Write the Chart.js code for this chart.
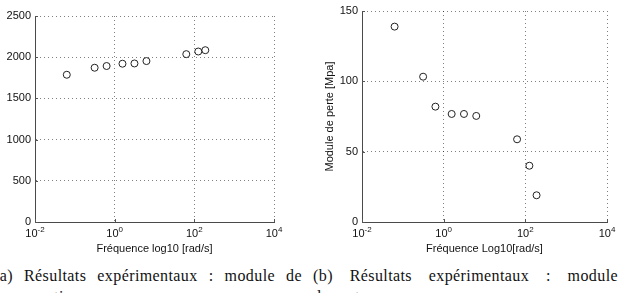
<!DOCTYPE html>
<html>
<head>
<meta charset="utf-8">
<script src="https://cdn.jsdelivr.net/npm/chart.js@4.4.0/dist/chart.umd.min.js"></script>
<style>
  body { margin: 0; width: 618px; height: 293px; overflow: hidden; background: #fff; position: relative; }
  .box { position: absolute; top: 0; width: 309px; height: 260px; }
  .cap { position: absolute; top: 266px; font-family: "Liberation Serif", "DejaVu Serif", serif; font-size: 16px; line-height: 19px; letter-spacing: 0.4px; color: #111; }
  .cap .l1 { text-align: justify; text-align-last: justify; }
  .cap .l2 { margin-top: 2px; }
</style>
</head>
<body>
<div class="box" style="left:0"><canvas id="storage"></canvas></div>
<div class="box" style="left:309px"><canvas id="loss"></canvas></div>
<div class="cap" style="left:-6px;width:308px"><div class="l1">(a) Résultats expérimentaux : module de</div><div class="l2">conservation</div></div>
<div class="cap" style="left:313px;width:305px"><div class="l1">(b) Résultats expérimentaux : module</div><div class="l2">de perte</div></div>
<script>
// frequences (rad/s), communes aux deux essais
const frequences = [0.0628, 0.314, 0.628, 1.57, 3.14, 6.28, 62.8, 125.7, 188.5];
// module de conservation
const moduleConservation = [1787, 1872, 1893, 1921, 1924, 1953, 2037, 2069, 2085];
// module de perte [MPa]
const modulePerte = [138.9, 103.3, 82, 76.8, 76.8, 75.4, 58.8, 40, 19];
// exposants des graduations en x (10^n)
const xTickExps = [-2, 0, 2, 4];

const sans = "'Liberation Sans', Arial, sans-serif";

// dessine les etiquettes 10^n et les petites graduations interieures
const ticksPuissance = {
  id: 'ticksPuissance',
  afterDraw(chart) {
    const ctx = chart.ctx;
    const xs = chart.scales.x;
    const ys = chart.scales.y;
    const area = chart.chartArea;
    ctx.save();
    ctx.fillStyle = '#111';
    ctx.strokeStyle = '#555';
    ctx.lineWidth = 1;
    xTickExps.forEach(e => {
      const px = xs.getPixelForValue(Math.pow(10, e));
      ctx.font = '11px ' + sans;
      const wb = ctx.measureText('10').width;
      ctx.font = '8px ' + sans;
      const sup = String(e);
      const ws = ctx.measureText(sup).width;
      const x0 = px - (wb + ws) / 2;
      ctx.font = '11px ' + sans;
      ctx.textAlign = 'left';
      ctx.textBaseline = 'alphabetic';
      ctx.fillText('10', x0, area.bottom + 15);
      ctx.font = '8px ' + sans;
      ctx.fillText(sup, x0 + wb, area.bottom + 10);
      ctx.beginPath();
      ctx.moveTo(Math.round(px) + 0.5, area.bottom);
      ctx.lineTo(Math.round(px) + 0.5, area.bottom - 3);
      ctx.stroke();
    });
    ys.ticks.forEach(t => {
      const py = Math.round(ys.getPixelForValue(t.value)) + 0.5;
      ctx.beginPath();
      ctx.moveTo(area.left, py);
      ctx.lineTo(area.left + 3, py);
      ctx.stroke();
    });
    ctx.restore();
  }
};

function creerGraphe(id, valeurs, yMax, yStep, yTitre, xTitre, marges, largeurY) {
  const ctx = document.getElementById(id).getContext('2d');
  return new Chart(ctx, {
    type: 'scatter',
    data: {
      datasets: [{
        data: frequences.map((f, i) => ({x: f, y: valeurs[i]})),
        pointStyle: 'circle',
        pointRadius: 3.5,
        pointBorderWidth: 1,
        borderColor: '#222',
        backgroundColor: 'rgba(0,0,0,0)',
        showLine: false
      }]
    },
    options: {
      responsive: true,
      maintainAspectRatio: false,
      animation: false,
      layout: { padding: marges },
      plugins: { legend: { display: false }, tooltip: { enabled: false } },
      scales: {
        x: {
          type: 'logarithmic',
          min: 0.01,
          max: 10000,
          afterBuildTicks: s => { s.ticks = xTickExps.map(e => ({value: Math.pow(10, e)})); },
          afterFit: s => { s.height = 38; },
          ticks: { display: false },
          grid: { color: 'rgba(0,0,0,0.5)', drawTicks: false },
          border: { display: true, color: '#4a4a4a', width: 1, dash: [1, 3] },
          title: { display: true, text: xTitre, color: '#111', font: { family: sans, size: 11 }, padding: { top: 0, bottom: 4 } }
        },
        y: {
          min: 0,
          max: yMax,
          afterFit: s => { s.width = largeurY; },
          ticks: { stepSize: yStep, color: '#111', font: { family: sans, size: 11 }, padding: 4, callback: v => String(v) },
          grid: { color: 'rgba(0,0,0,0.5)', drawTicks: false },
          border: { display: true, color: '#4a4a4a', width: 1, dash: [1, 3] },
          title: { display: !!yTitre, text: yTitre, color: '#111', font: { family: sans, size: 11 }, padding: { top: 14, bottom: 0 } }
        }
      }
    },
    plugins: [ticksPuissance]
  });
}

creerGraphe('storage', moduleConservation, 2500, 500, '', 'Fréquence log10 [rad/s]',
  { top: 16, right: 35, left: 0, bottom: 0 }, 35);
creerGraphe('loss', modulePerte, 150, 50, 'Module de perte [Mpa]', 'Fréquence Log10[rad/s]',
  { top: 11, right: 11, left: 0, bottom: 0 }, 53);
</script>
</body>
</html>
